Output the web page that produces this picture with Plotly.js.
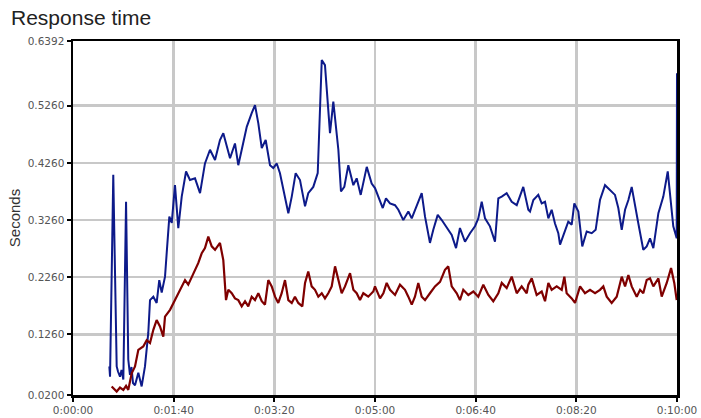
<!DOCTYPE html>
<html>
<head>
<meta charset="utf-8">
<script src="https://cdn.plot.ly/plotly-3.0.1.min.js"></script>
<style>html,body{margin:0;padding:0;background:#fff;}#chart{width:701px;height:418px;}</style>
</head>
<body>
<div id="chart"></div>
<script>
// Elapsed time (seconds) and response time (seconds)
const blueTime = [36.1,36.8,40.0,43.4,44.7,46.7,48.2,50.0,52.7,54.9,56.6,58.1,59.6,61.6,64.9,68.2,71.5,74.8,76.5,79.8,83.1,85.7,88.1,91.4,93.1,95.7,98.1,101.3,104.6,108.0,112.3,116.2,121.2,126.2,131.1,136.1,141.1,146.0,149.3,154.3,156.0,160.9,164.2,167.6,172.6,177.5,180.8,184.1,187.5,191.4,195.7,199.0,202.4,205.6,210.6,213.9,217.3,221.2,225.5,230.5,233.7,238.7,243.1,245.4,247.1,250.3,255.3,258.6,263.6,266.2,269.5,273.5,278.5,281.8,285.8,291.8,296.7,300.0,305.0,307.7,310.9,314.9,319.9,323.2,328.1,333.1,336.5,341.4,346.4,349.7,354.6,357.9,362.3,366.3,371.2,376.2,380.5,384.4,389.4,394.4,399.3,402.6,406.0,409.3,414.2,419.2,422.5,425.9,430.8,435.8,440.8,447.3,452.3,454.0,457.3,462.2,465.6,468.9,472.2,475.5,478.8,482.1,483.8,487.1,492.0,495.4,498.0,502.0,505.9,510.3,515.3,519.2,523.5,528.5,533.5,538.4,541.7,545.1,548.4,551.7,555.0,558.3,561.6,566.5,569.9,573.2,576.5,581.5,586.4,590.8,594.7,596.3,599.7,600.0];
const blueValue = [0.070,0.052,0.405,0.070,0.061,0.052,0.064,0.047,0.358,0.082,0.055,0.069,0.041,0.037,0.059,0.035,0.070,0.129,0.186,0.192,0.181,0.221,0.199,0.227,0.269,0.332,0.321,0.387,0.312,0.367,0.411,0.396,0.399,0.373,0.425,0.449,0.431,0.466,0.478,0.443,0.434,0.460,0.422,0.449,0.489,0.513,0.527,0.495,0.452,0.466,0.422,0.417,0.425,0.408,0.367,0.338,0.367,0.408,0.396,0.350,0.373,0.384,0.408,0.524,0.606,0.597,0.478,0.533,0.449,0.376,0.384,0.422,0.387,0.399,0.370,0.419,0.390,0.382,0.358,0.347,0.364,0.355,0.352,0.344,0.326,0.341,0.329,0.352,0.373,0.332,0.286,0.309,0.335,0.326,0.312,0.300,0.277,0.312,0.288,0.303,0.315,0.329,0.358,0.329,0.315,0.288,0.364,0.367,0.373,0.358,0.352,0.384,0.344,0.341,0.361,0.370,0.355,0.358,0.329,0.344,0.320,0.303,0.283,0.300,0.323,0.318,0.355,0.341,0.280,0.306,0.303,0.309,0.361,0.387,0.379,0.370,0.347,0.309,0.344,0.361,0.384,0.355,0.320,0.274,0.280,0.294,0.277,0.338,0.367,0.411,0.350,0.315,0.294,0.583];

const redTime = [38.4,43.4,46.7,50.0,52.7,54.9,58.3,61.6,64.9,69.8,73.2,76.5,79.8,83.1,86.4,89.7,91.4,96.4,101.3,106.3,111.3,114.5,119.5,124.5,127.9,131.1,134.4,137.8,141.1,146.0,149.3,152.0,154.3,157.7,160.9,164.2,167.6,170.9,174.1,177.5,180.8,184.1,187.5,190.7,194.0,197.4,200.7,203.9,207.3,210.6,213.9,217.3,220.5,223.8,227.8,230.5,233.7,237.1,240.4,243.7,247.1,250.3,253.6,257.0,260.3,263.6,266.9,270.2,275.2,278.5,281.8,285.1,288.4,293.3,298.3,300.0,305.0,308.3,311.6,314.9,319.9,324.8,329.8,333.1,336.5,339.7,343.0,346.4,349.7,354.6,359.6,364.6,369.5,372.8,376.2,381.2,384.4,387.7,392.7,397.7,402.6,407.6,412.6,417.5,422.5,425.9,430.8,435.8,440.8,445.7,450.7,452.3,455.7,460.6,465.6,468.9,472.2,475.5,480.5,485.5,488.1,490.4,495.4,498.7,503.7,508.6,513.6,518.6,523.5,526.8,530.2,535.1,540.1,545.1,548.4,551.7,555.0,560.0,563.3,566.5,569.9,573.2,576.5,581.5,584.8,589.8,594.1,597.3,599.7];
const redValue = [0.035,0.026,0.033,0.029,0.036,0.029,0.058,0.070,0.099,0.105,0.116,0.111,0.134,0.151,0.140,0.122,0.157,0.169,0.186,0.204,0.221,0.213,0.233,0.251,0.268,0.277,0.297,0.280,0.274,0.286,0.256,0.186,0.204,0.198,0.189,0.186,0.175,0.184,0.175,0.192,0.186,0.198,0.184,0.178,0.221,0.210,0.192,0.181,0.198,0.221,0.186,0.181,0.192,0.181,0.175,0.216,0.236,0.210,0.204,0.192,0.198,0.189,0.198,0.210,0.245,0.221,0.198,0.210,0.233,0.204,0.198,0.186,0.198,0.192,0.201,0.210,0.189,0.198,0.216,0.204,0.195,0.213,0.204,0.192,0.178,0.192,0.216,0.192,0.186,0.198,0.210,0.218,0.239,0.245,0.210,0.198,0.186,0.204,0.195,0.201,0.192,0.213,0.195,0.184,0.198,0.216,0.207,0.227,0.198,0.210,0.198,0.213,0.224,0.195,0.201,0.184,0.216,0.204,0.210,0.204,0.227,0.198,0.189,0.181,0.210,0.198,0.204,0.198,0.204,0.210,0.192,0.181,0.192,0.227,0.210,0.230,0.210,0.192,0.204,0.198,0.221,0.224,0.210,0.224,0.192,0.216,0.242,0.216,0.186];

const xTickVals = [0,100,200,300,400,500,600];
const xTickText = ["0:00:00","0:01:40","0:03:20","0:05:00","0:06:40","0:08:20","0:10:00"];
const yTickVals = [0.0200,0.1260,0.2260,0.3260,0.4260,0.5260,0.6392];
const yTickText = ["0.0200","0.1260","0.2260","0.3260","0.4260","0.5260","0.6392"];

const traces = [
  {x: blueTime, y: blueValue, type: 'scatter', mode: 'lines', line: {color: '#0d1a8a', width: 2}, hoverinfo: 'skip'},
  {x: redTime, y: redValue, type: 'scatter', mode: 'lines', line: {color: '#7f0000', width: 2.2}, hoverinfo: 'skip'}
];

const tickFont = {family: 'DejaVu Sans, Verdana, sans-serif', size: 10.5, color: '#555555'};

const layout = {
  width: 701, height: 418,
  margin: {l: 73, r: 24, t: 41, b: 23, pad: 0},
  paper_bgcolor: '#ffffff', plot_bgcolor: '#ffffff',
  showlegend: false,
  font: {family: 'Liberation Sans, Arial, sans-serif', color: '#555555', size: 11},
  title: {text: 'Response time', x: 11/701, xref: 'container', xanchor: 'left', y: 1 - 18/418, yref: 'container', yanchor: 'middle',
          font: {family: 'Liberation Sans, Arial, sans-serif', size: 21, color: '#222222'}},
  xaxis: {
    range: [0, 600], tickmode: 'array', tickvals: xTickVals, ticktext: xTickText,
    showgrid: true, gridcolor: '#c8c8c8', gridwidth: 2.5,
    showline: true, linecolor: '#000000', linewidth: 2.5, mirror: true,
    ticks: 'outside', ticklen: 4, tickwidth: 2, tickcolor: '#000000',
    tickfont: tickFont, zeroline: false, fixedrange: true
  },
  yaxis: {
    range: [0.02, 0.6392], tickmode: 'array', tickvals: yTickVals, ticktext: yTickText,
    showgrid: true, gridcolor: '#c8c8c8', gridwidth: 2.5,
    showline: true, linecolor: '#000000', linewidth: 2.5, mirror: true,
    ticks: 'outside', ticklen: 4, tickwidth: 2, tickcolor: '#000000',
    tickfont: tickFont, zeroline: false, fixedrange: true,
    title: {text: 'Seconds', font: {family: 'Liberation Sans, Arial, sans-serif', size: 15, color: '#333333'}, standoff: 4}
  }
};

Plotly.newPlot('chart', traces, layout, {staticPlot: true, displayModeBar: false});
</script>
</body>
</html>
